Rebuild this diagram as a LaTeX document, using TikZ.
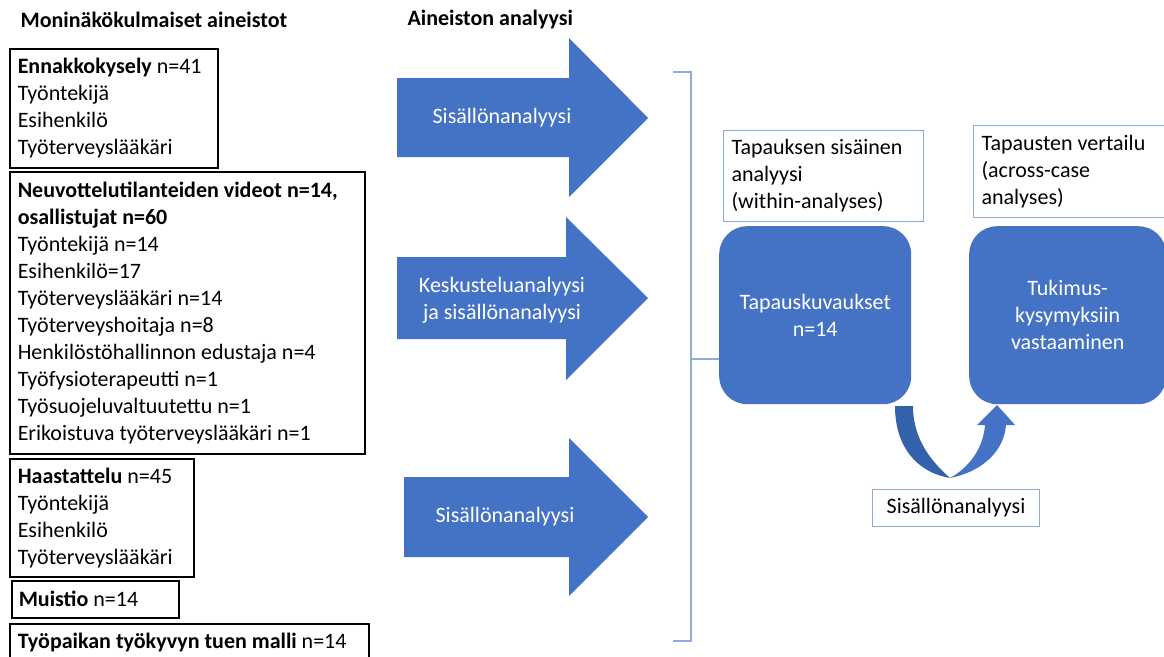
\documentclass[tikz,border=0pt]{standalone}
\usepackage{fontspec}
\setmainfont{Carlito}
\usepackage{xcolor}
\definecolor{mainblue}{HTML}{4472C4}
\definecolor{darkblue}{HTML}{3461AC}
\definecolor{lineblue}{HTML}{8FAADC}

\begin{document}
\begin{tikzpicture}[x=1pt,y=-1pt,
		every node/.style = {font=\fontsize{22}{27}\selectfont},
		srcbox/.style = {draw=black, line width=1.5pt, anchor=north west,
			align=flush left, inner xsep=8pt, inner ysep=0pt},
		lightbox/.style = {draw=lineblue, line width=1pt, anchor=north west,
			align=flush left, inner xsep=8pt, inner ysep=0pt},
		casebox/.style = {fill=mainblue, rounded corners=28pt, text=white,
			align=center, anchor=north west, inner sep=0pt},
		arrowfill/.style = {fill=mainblue},
		arrowtext/.style = {text=white, align=center}]
		 %\draw[help lines] (0,0) grid (1164,656);
		 \useasboundingbox (0,0) rectangle (1164,656);
		 \clip (0,0) rectangle (1164,656);
		 
		 % otsikot
		 \node[anchor=west] (t1) at (17,20) {\textbf{Moninäkökulmaiset aineistot}};
		 \node[anchor=west] (t2) at (404,20) {\textbf{Aineiston analyysi}};
		 
		 % aineistot
		 \node[srcbox, text width=192pt, minimum height=119pt] (kysely) at (9,48)
		 	{\textbf{Ennakkokysely} n=41\\Työntekijä\\Esihenkilö\\Työterveyslääkäri};
		 \node[srcbox, text width=339pt, minimum height=282pt] (videot) at (9,171)
		 	{\textbf{Neuvottelutilanteiden videot n=14,}\\
		 	 \textbf{osallistujat n=60}\\
		 	 Työntekijä n=14\\
		 	 Esihenkilö=17\\
		 	 Työterveyslääkäri n=14\\
		 	 Työterveyshoitaja n=8\\
		 	 Henkilöstöhallinnon edustaja n=4\\
		 	 Työfysioterapeutti n=1\\
		 	 Työsuojeluvaltuutettu n=1\\
		 	 Erikoistuva työterveyslääkäri n=1};
		 \node[srcbox, text width=168pt, minimum height=118pt] (haast) at (9,458)
		 	{\textbf{Haastattelu} n=45\\Työntekijä\\Esihenkilö\\Työterveyslääkäri};
		 \node[srcbox, text width=153pt, inner xsep=7pt, minimum height=37pt] (muistio) at (11,580)
		 	{\textbf{Muistio} n=14};
		 \node[srcbox, text width=343pt, minimum height=37pt] (malli) at (9,623)
		 	{\textbf{Työpaikan työkyvyn tuen malli} n=14};
		 
		 % analyysinuolet
		 \fill[arrowfill] (397,78) -- (569,78) -- (569,38) -- (648,118)
		 	-- (569,197) -- (569,157) -- (397,157) -- cycle;
		 \fill[arrowfill] (397,257) -- (566,257) -- (566,217) -- (648,298)
		 	-- (566,380) -- (566,339) -- (397,339) -- cycle;
		 \fill[arrowfill] (404,477) -- (569,477) -- (569,438) -- (648,517)
		 	-- (569,596) -- (569,557) -- (404,557) -- cycle;
		 \node[arrowtext] (a1) at (502,118) {Sisällönanalyysi};
		 \node[arrowtext] (a2) at (502,300) {Keskusteluanalyysi\\ja sisällönanalyysi};
		 \node[arrowtext] (a3) at (505,517) {Sisällönanalyysi};
		 
		 % sulku
		 \draw[lineblue, line width=1.5pt] (673,72) -- (691,72) -- (691,641) -- (673,641);
		 \coordinate (sulku) at (691,359);
		 
		 % tapaukset
		 \node[lightbox, text width=184pt, minimum height=91pt] (within) at (723,130)
		 	{Tapauksen sisäinen\\analyysi\\(within-analyses)};
		 \node[lightbox, text width=181pt, minimum height=92pt] (across) at (973,125)
		 	{Tapausten vertailu\\(across-case\\analyses)};
		 \node[casebox, minimum width=192pt, minimum height=178pt] (kuvaus) at (719,226)
		 	{Tapauskuvaukset\\n=14};
		 \node[casebox, minimum width=197pt, minimum height=178pt] (vastaus) at (969,226)
		 	{Tukimus-\\kysymyksiin\\vastaaminen};
		 \draw[lineblue, line width=1.5pt] (sulku) -- (sulku -| kuvaus.west);
		 
		 % kaareva nuoli
		 \fill[darkblue] (895,406) .. controls (895,446) and (916,472) .. (950,478)
		 	.. controls (932,462) and (913,440) .. (913,406) -- cycle;
		 \fill[mainblue] (950,478) .. controls (981,472) and (1004,452) .. (1006,425)
		 	-- (1015,425) -- (997,405) -- (977,425) -- (985,425)
		 	.. controls (983,450) and (968,468) .. (950,478) -- cycle;
		 \node[lightbox, anchor=center, minimum width=167pt, minimum height=37pt] (vertailu) at (956,508)
		 	{Sisällönanalyysi};
		 \end{tikzpicture}
\end{document}
